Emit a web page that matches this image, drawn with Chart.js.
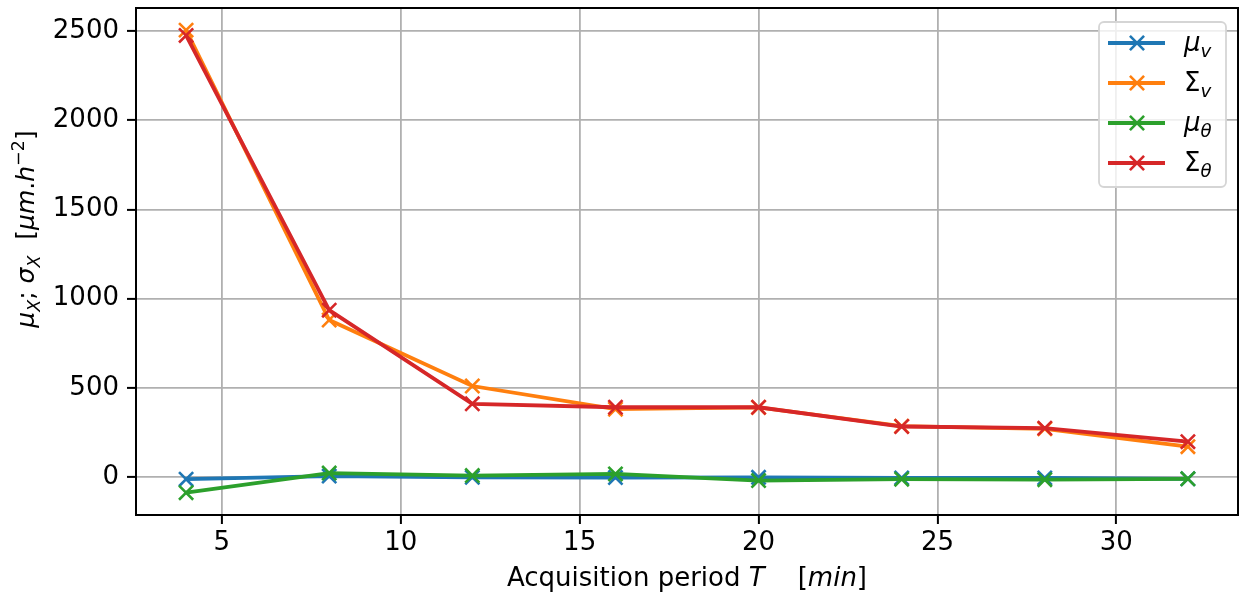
<!DOCTYPE html>
<html><head><meta charset="utf-8">
<script src="https://cdn.jsdelivr.net/npm/chart.js@4.4.1/dist/chart.umd.min.js"></script>
<style>html,body{margin:0;padding:0;background:#fff;} canvas{display:block;}</style>
</head><body>
<canvas id="c" width="1242" height="598" style="width:1242px;height:598px"></canvas>
<script>
// ---- data ----
const periods = [4, 8, 12, 16, 20, 24, 28, 32];
const muV = [-12, 5, -2, -3, -2, -5, -5, -10];
const sigmaV = [2505, 880, 510, 380, 390, 285, 270, 170];
const muTheta = [-88, 22, 8, 17, -20, -12, -15, -10];
const sigmaTheta = [2475, 935, 410, 391, 391, 283, 274, 198];
const xTicks = [5, 10, 15, 20, 25, 30];
const yTicks = [0, 500, 1000, 1500, 2000, 2500];
const seriesNames = ['μv', 'Σv', 'μθ', 'Σθ'];
const colors = ['#1f77b4', '#ff7f0e', '#2ca02c', '#d62728'];

const FONT = '"DejaVu Sans"';
const TICK_SIZE = 26, LABEL_SIZE = 26, YLABEL_SIZE = 25, LEGEND_SIZE = 26;

// rich text helpers (for mathtext-like labels)
function segFont(s, base) {
  const size = (s.sub || s.sup) ? base * 0.7 : base;
  return (s.i ? 'italic ' : '') + size + 'px ' + FONT;
}
function measureRich(ctx, segs, base) {
  let w = 0;
  for (const s of segs) { ctx.font = segFont(s, base); w += ctx.measureText(s.t).width; }
  return w;
}
function drawRich(ctx, segs, x, y, base) {
  let cx = x;
  ctx.textBaseline = 'alphabetic'; ctx.textAlign = 'left';
  for (const s of segs) {
    ctx.font = segFont(s, base);
    let dy = 0;
    if (s.sub) dy = base * 0.22;
    if (s.sup) dy = -base * 0.42;
    ctx.fillText(s.t, cx, y + dy);
    cx += ctx.measureText(s.t).width;
  }
}

const xTitle = [{t: 'Acquisition period '}, {t: 'T', i: 1}, {t: '    ['}, {t: 'min', i: 1}, {t: ']'}];
const yTitle = [{t: 'μ', i: 1}, {t: 'X', i: 1, sub: 1}, {t: '; '}, {t: 'σ', i: 1}, {t: 'X', i: 1, sub: 1},
  {t: '  ['}, {t: 'μm', i: 1}, {t: '.'}, {t: 'h', i: 1}, {t: '−2', sup: 1}, {t: ']'}];
const legendLabels = [
  [{t: 'μ', i: 1}, {t: 'v', i: 1, sub: 1}],
  [{t: 'Σ'}, {t: 'v', i: 1, sub: 1}],
  [{t: 'μ', i: 1}, {t: 'θ', i: 1, sub: 1}],
  [{t: 'Σ'}, {t: 'θ', i: 1, sub: 1}]
];

function drawX(ctx, x, y, r, color, lw) {
  const d = r * Math.SQRT1_2;
  ctx.save();
  ctx.strokeStyle = color; ctx.lineWidth = lw;
  ctx.beginPath();
  ctx.moveTo(x - d, y - d); ctx.lineTo(x + d, y + d);
  ctx.moveTo(x + d, y - d); ctx.lineTo(x - d, y + d);
  ctx.stroke();
  ctx.restore();
}

const decorPlugin = {
  id: 'decor',
  afterDraw(chart) {
    const ctx = chart.ctx, a = chart.chartArea;
    ctx.save();
    // full frame
    ctx.strokeStyle = '#000'; ctx.lineWidth = 2;
    ctx.strokeRect(a.left, a.top, a.right - a.left, a.bottom - a.top);
    ctx.fillStyle = '#000';
    // x title
    const wx = measureRich(ctx, xTitle, LABEL_SIZE);
    drawRich(ctx, xTitle, (a.left + a.right) / 2 - wx / 2, 586, LABEL_SIZE);
    // y title
    const wy = measureRich(ctx, yTitle, YLABEL_SIZE);
    ctx.save();
    ctx.translate(34, 229);
    ctx.rotate(-Math.PI / 2);
    drawRich(ctx, yTitle, -wy / 2, 0, YLABEL_SIZE);
    ctx.restore();
    // legend
    const bx = 1099, by = 22, bw = 127, bh = 165, rr = 5;
    ctx.beginPath();
    ctx.moveTo(bx + rr, by);
    ctx.arcTo(bx + bw, by, bx + bw, by + bh, rr);
    ctx.arcTo(bx + bw, by + bh, bx, by + bh, rr);
    ctx.arcTo(bx, by + bh, bx, by, rr);
    ctx.arcTo(bx, by, bx + bw, by, rr);
    ctx.closePath();
    ctx.fillStyle = 'rgba(255,255,255,0.8)';
    ctx.fill();
    ctx.strokeStyle = '#d5d5d5'; ctx.lineWidth = 1.8;
    ctx.stroke();
    const rows = [43, 83, 123, 163];
    chart.data.datasets.forEach((ds, k) => {
      const y = rows[k];
      ctx.strokeStyle = ds.borderColor; ctx.lineWidth = 3.8;
      ctx.beginPath(); ctx.moveTo(1108, y); ctx.lineTo(1165, y); ctx.stroke();
      drawX(ctx, 1137, y, 10, ds.borderColor, 2.6);
      ctx.fillStyle = '#000';
      drawRich(ctx, legendLabels[k], 1184, y + 8, LEGEND_SIZE);
    });
    ctx.restore();
  }
};

const mk = (vals) => periods.map((p, i) => ({x: p, y: vals[i]}));
const series = [muV, sigmaV, muTheta, sigmaTheta];

new Chart(document.getElementById('c'), {
  type: 'line',
  data: {
    datasets: series.map((vals, k) => ({
      label: seriesNames[k],
      data: mk(vals),
      borderColor: colors[k],
      backgroundColor: colors[k],
      borderWidth: 3.8,
      pointStyle: 'crossRot',
      pointRadius: 10,
      pointHoverRadius: 10,
      pointBorderWidth: 2.6,
      pointBorderColor: colors[k],
      tension: 0,
      fill: false,
      order: 3 - k
    }))
  },
  options: {
    responsive: false,
    animation: false,
    events: [],
    layout: {autoPadding: false, padding: {left: 0, right: 4, top: 8, bottom: 0}},
    plugins: {legend: {display: false}, tooltip: {enabled: false}, title: {display: false}},
    scales: {
      x: {
        type: 'linear', min: 2.6, max: 33.4,
        afterBuildTicks: s => { s.ticks = xTicks.map(v => ({value: v})); },
        afterFit: s => { s.height = 83; s.paddingLeft = 0; s.paddingRight = 0; },
        border: {display: false},
        grid: {color: '#b0b0b0', lineWidth: 1.8, drawTicks: true, tickLength: 9, tickColor: '#000', tickWidth: 2},
        ticks: {color: '#000', font: {family: FONT, size: TICK_SIZE}, padding: 4, maxRotation: 0, callback: v => String(v)}
      },
      y: {
        type: 'linear', min: -213, max: 2629,
        afterBuildTicks: s => { s.ticks = yTicks.map(v => ({value: v})); },
        afterFit: s => { s.width = 136; s.paddingTop = 0; s.paddingBottom = 0; },
        border: {display: false},
        grid: {color: '#b0b0b0', lineWidth: 1.8, drawTicks: true, tickLength: 9, tickColor: '#000', tickWidth: 2},
        ticks: {color: '#000', font: {family: FONT, size: TICK_SIZE}, padding: 8, callback: v => String(v)}
      }
    }
  },
  plugins: [decorPlugin]
});
</script>
</body></html>
